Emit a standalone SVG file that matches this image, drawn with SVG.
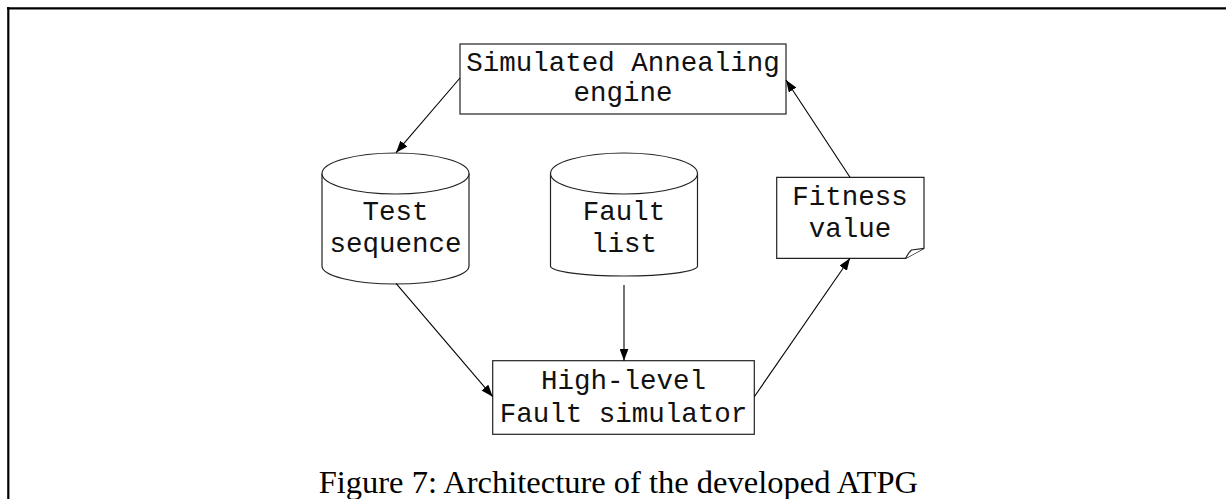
<svg xmlns="http://www.w3.org/2000/svg" width="1226" height="499" viewBox="0 0 1226 499">
  <style>
    .shape { fill: #ffffff; stroke: #222222; stroke-width: 1.2; }
    .label { font-family: "Liberation Mono", "Courier New", monospace; font-size: 27.5px; fill: #111111; text-anchor: middle; }
    .edge { stroke: #000000; stroke-width: 1.1; fill: none; marker-end: url(#arrow); }
    .caption { font-family: "Liberation Serif", "Times New Roman", serif; font-size: 32.5px; fill: #000000; }
  </style>
  <defs>
    <marker id="arrow" markerUnits="userSpaceOnUse" markerWidth="13" markerHeight="9" refX="12" refY="4.5" orient="auto">
      <path d="M0,0 L12,4.5 L0,9 z" fill="#000000"/>
    </marker>
  </defs>

  <rect x="0" y="0" width="1226" height="499" fill="#ffffff"/>

  <!-- page frame (top and left rules) -->
  <g id="frame" stroke="#000000" stroke-width="2.2">
    <line x1="7" y1="8.3" x2="1226" y2="8.3"/>
    <line x1="8.3" y1="7" x2="8.3" y2="499"/>
  </g>

  <g id="sa-engine">
    <rect class="shape" x="460" y="44" width="326" height="70"/>
    <text class="label" x="623" y="71">Simulated Annealing</text>
    <text class="label" x="623" y="101">engine</text>
  </g>

  <g id="test-sequence">
    <path class="shape" d="M322,173.5 V266 A73.5,18 0 0 0 469,266 V173.5"/>
    <ellipse class="shape" cx="395.5" cy="173.5" rx="73.5" ry="20.5"/>
    <text class="label" x="395.5" y="220">Test</text>
    <text class="label" x="395.5" y="252">sequence</text>
  </g>

  <g id="fault-list">
    <path class="shape" d="M550.5,173.5 V266 A73.5,10 0 0 0 697.5,266 V173.5"/>
    <ellipse class="shape" cx="624" cy="173.5" rx="73.5" ry="20.5"/>
    <text class="label" x="624" y="220">Fault</text>
    <text class="label" x="624" y="252">list</text>
  </g>

  <g id="fitness-value">
    <path class="shape" d="M776.7,177.3 H924 V248.3 L905.7,258.3 H776.7 Z"/>
    <path class="shape" d="M905.7,258.3 Q908.5,252.5 911.5,250 L924,248.3"/>
    <text class="label" x="850" y="205">Fitness</text>
    <text class="label" x="850" y="237">value</text>
  </g>

  <g id="fault-simulator">
    <rect class="shape" x="492.7" y="360.7" width="261.6" height="73.6"/>
    <text class="label" x="623.5" y="388.5">High-level</text>
    <text class="label" x="623.5" y="421.7">Fault simulator</text>
  </g>

  <g id="connectors">
    <line class="edge" x1="460" y1="78" x2="396" y2="152.7"/>
    <line class="edge" x1="850" y1="177.3" x2="786" y2="80"/>
    <line class="edge" x1="396" y1="283.3" x2="492.7" y2="396.7"/>
    <line class="edge" x1="624" y1="285" x2="624" y2="360.7"/>
    <line class="edge" x1="754.3" y1="396.7" x2="850" y2="258.3"/>
  </g>

  <text class="caption" x="318.7" y="493">Figure 7: Architecture of the developed ATPG</text>
</svg>
